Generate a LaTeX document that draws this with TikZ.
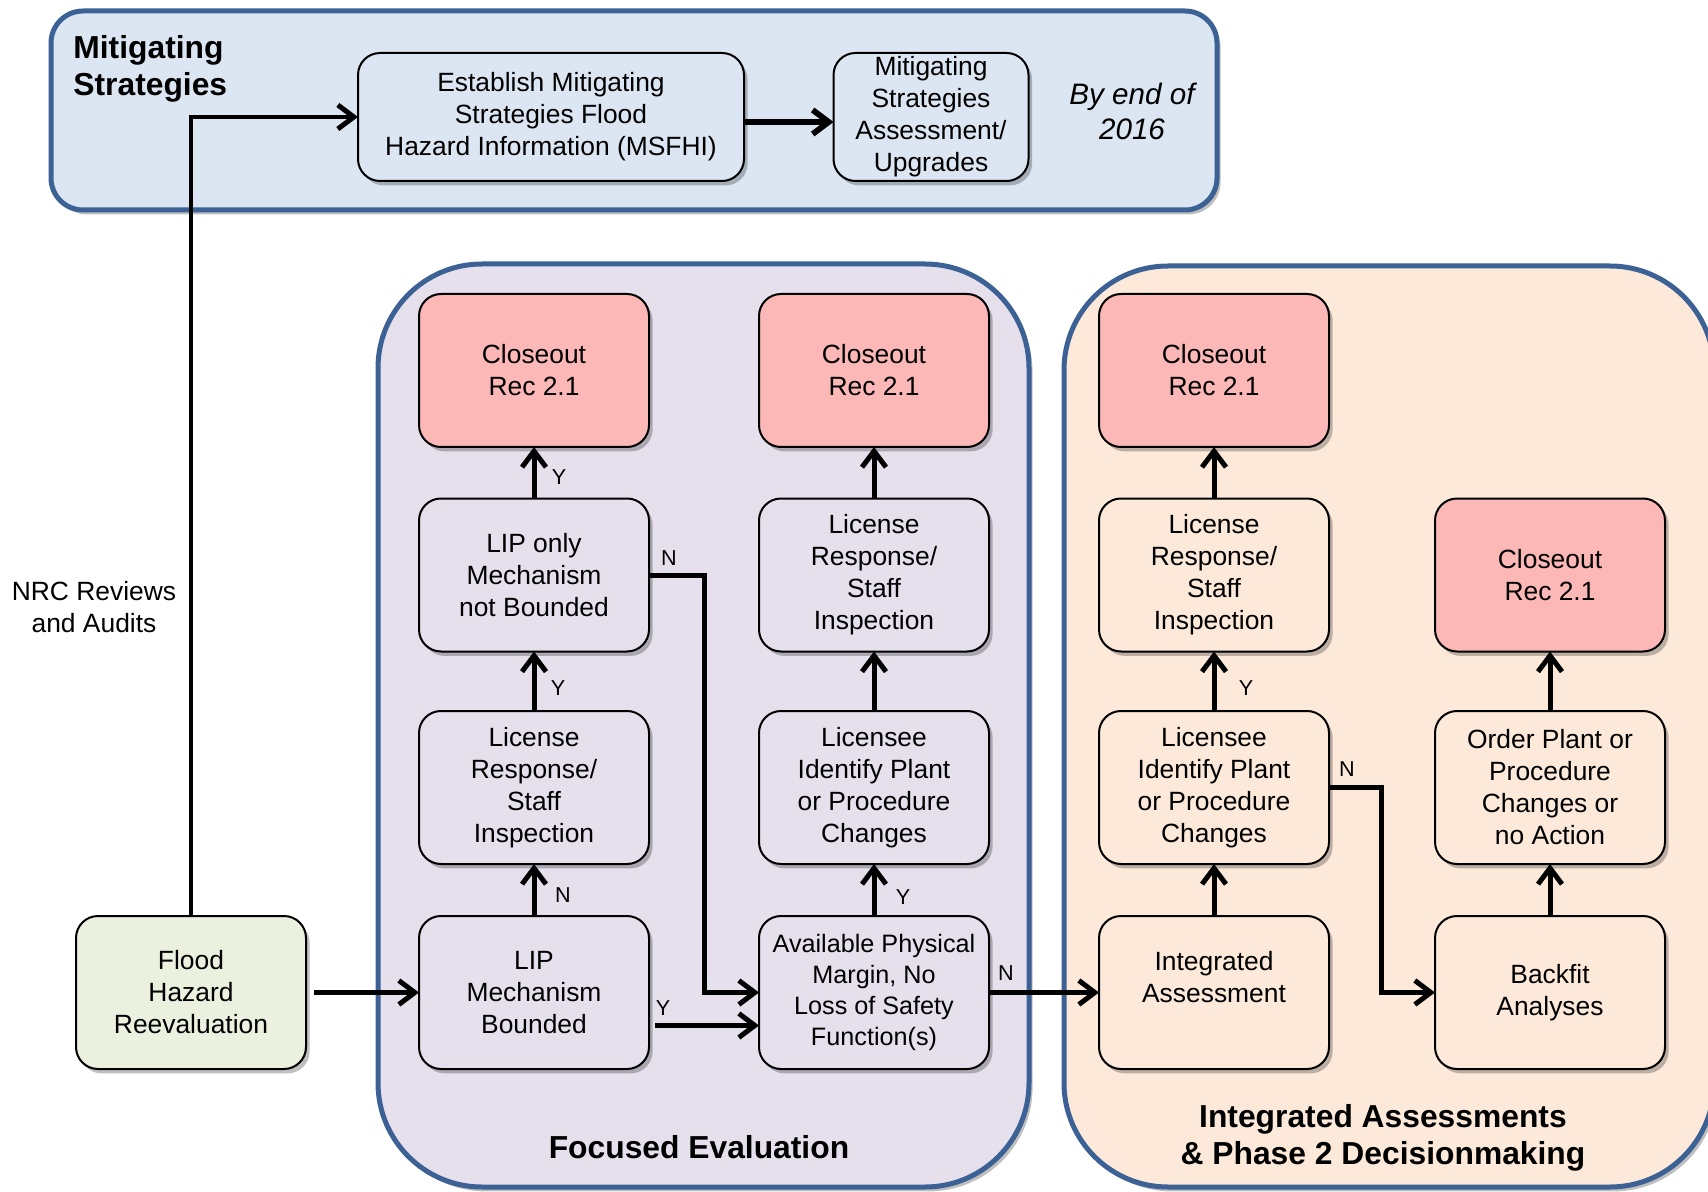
\documentclass[tikz,border=0pt]{standalone}
\usepackage{fontspec}
\setmainfont{Liberation Sans}
\usetikzlibrary{arrows.meta,shadows}
\definecolor{msfill}{HTML}{DCE6F2}
\definecolor{msborder}{HTML}{3B6195}
\definecolor{fefill}{HTML}{E5E0EC}
\definecolor{iafill}{HTML}{FCE9DA}
\definecolor{floodfill}{HTML}{EBF1DE}
\definecolor{closefill}{HTML}{FCB7B7}
\newcommand\myreg{\fontsize{13.2}{16}\selectfont}
\newcommand\mysmall{\fontsize{12.6}{15.4}\selectfont}
\newcommand\myttl{\fontsize{15.9}{18.5}\selectfont\bfseries}
\newcommand\myital{\fontsize{14.8}{17.5}\selectfont\itshape}
\newcommand\mylbl{\fontsize{10.8}{12}\selectfont}
\tikzset{
  shd/.style={drop shadow={shadow xshift=1.8pt,shadow yshift=-2.2pt,opacity=0.25,fill=black}},
  container/.style={draw=msborder, line width=2.5pt, inner sep=0pt, outer sep=0pt, shd},
  box/.style={draw=black, line width=1pt, rounded corners=11pt, minimum width=115pt,
    minimum height=76.5pt, align=center, inner sep=1pt, outer sep=0pt, font=\myreg, shd},
  closebox/.style={box, fill=closefill},
  arr/.style={line width=2.5pt, -{Straight Barb[length=8pt,width=12pt]}},
  thinarr/.style={line width=1.7pt, -{Straight Barb[length=8pt,width=12pt,line width=2.5pt]}},
  lbl/.style={font=\mylbl, inner sep=0pt},
  ttl/.style={font=\myttl, inner sep=0pt},
}
\begin{document}
\begin{tikzpicture}[x=0.5pt,y=-0.5pt]
\useasboundingbox (0,0) rectangle (1708,1192);
% containers
\node[container, fill=msfill, rounded corners=16pt, minimum width=583pt, minimum height=99.5pt] (ms) at (634,110.5) {};
\node[container, fill=fefill, rounded corners=52pt, minimum width=325.5pt, minimum height=461.5pt] (fe) at (703.5,725.5) {};
\begin{scope}
\clip (0,0) rectangle (1708,1192);
\node[container, fill=iafill, rounded corners=52pt, minimum width=325pt, minimum height=460.5pt] (ia) at (1389,726.5) {};
\end{scope}
% titles
\node[ttl, anchor=west, align=left] (mstitle) at (73,68.5) {Mitigating\\Strategies};
\node[ttl] (fetitle) at (699,1147) {Focused Evaluation};
\node[ttl, align=center] (iatitle) at (1383,1138) {Integrated Assessments\\\& Phase 2 Decisionmaking};
\node[font=\myital, align=center, inner sep=0pt] (byend) at (1132,111) {By end of\\2016};
\node[font=\myreg, align=center, inner sep=0pt] (nrc) at (94,607) {NRC Reviews\\and Audits};
% top boxes
\node[box, fill=msfill, minimum width=193pt, minimum height=64pt] (est) at (551,117) {Establish Mitigating\\Strategies Flood\\Hazard Information (MSFHI)};
\node[box, fill=msfill, minimum width=97.5pt, minimum height=64pt, inner sep=0pt] (msa) at (931,117) {Mitigating\\Strategies\\Assessment/\\Upgrades};
% flood
\node[box, fill=floodfill] (flood) at (191,992.5) {Flood\\Hazard\\Reevaluation};
% column B
\node[closebox] (b1) at (534,370.5) {Closeout\\Rec 2.1};
\node[box, fill=fefill] (b2) at (534,575) {LIP only\\Mechanism\\not Bounded};
\node[box, fill=fefill] (b3) at (534,787.5) {License\\Response/\\Staff\\Inspection};
\node[box, fill=fefill] (b4) at (534,992.5) {LIP\\Mechanism\\Bounded};
% column C
\node[closebox] (c1) at (874,370.5) {Closeout\\Rec 2.1};
\node[box, fill=fefill] (c2) at (874,575) {License\\Response/\\Staff\\Inspection};
\node[box, fill=fefill] (c3) at (874,787.5) {Licensee\\Identify Plant\\or Procedure\\Changes};
\node[box, fill=fefill, font=\mysmall] (c4) at (874,992.5) {Available Physical\\Margin, No\\Loss of Safety\\Function(s)};
% column D
\node[closebox] (d1) at (1214,370.5) {Closeout\\Rec 2.1};
\node[box, fill=iafill] (d2) at (1214,575) {License\\Response/\\Staff\\Inspection};
\node[box, fill=iafill] (d3) at (1214,787.5) {Licensee\\Identify Plant\\or Procedure\\Changes};
\node[box, fill=iafill] (d4) at (1214,992.5) {Integrated\\Assessment\\~};
% column E
\node[closebox] (e2) at (1550,575) {Closeout\\Rec 2.1};
\node[box, fill=iafill] (e3) at (1550,787.5) {Order Plant or\\Procedure\\Changes or\\no Action};
\node[box, fill=iafill] (e4) at (1550,992.5) {Backfit\\Analyses};
% connectors
\draw[thinarr] (flood.north) |- (est.west);
\draw[arr, line width=2.9pt] ([yshift=-2.5pt]est.east) -- ([yshift=-2.5pt]msa.west);
\draw[arr, shorten <=4pt] (flood.east) -- (b4.west);
\draw[arr] (b4.north) -- (b3.south);
\draw[arr] (b3.north) -- (b2.south);
\draw[arr] (b2.north) -- (b1.south);
\draw[arr] (b2.east) -- ++(55,0) |- (c4.west);
\draw[arr, shorten <=3pt] ([yshift=-16.5pt]b4.east) -- ([yshift=-16.5pt]c4.west);
\draw[arr] (c4.north) -- (c3.south);
\draw[arr] (c3.north) -- (c2.south);
\draw[arr] (c2.north) -- (c1.south);
\draw[arr] (c4.east) -- (d4.west);
\draw[arr] (d4.north) -- (d3.south);
\draw[arr] (d3.north) -- (d2.south);
\draw[arr] (d2.north) -- (d1.south);
\draw[arr] (d3.east) -- ++(52,0) |- (e4.west);
\draw[arr] (e4.north) -- (e3.south);
\draw[arr] (e3.north) -- (e2.south);
% labels
\node[lbl] (l1) at (563,895) {N};
\node[lbl] (l2) at (558,688) {Y};
\node[lbl] (l3) at (559,477) {Y};
\node[lbl] (l4) at (669,558) {N};
\node[lbl] (l5) at (663,1008) {Y};
\node[lbl] (l6) at (903,897) {Y};
\node[lbl] (l7) at (1006,973) {N};
\node[lbl] (l8) at (1246,688) {Y};
\node[lbl] (l9) at (1347,769) {N};
\end{tikzpicture}
\end{document}
